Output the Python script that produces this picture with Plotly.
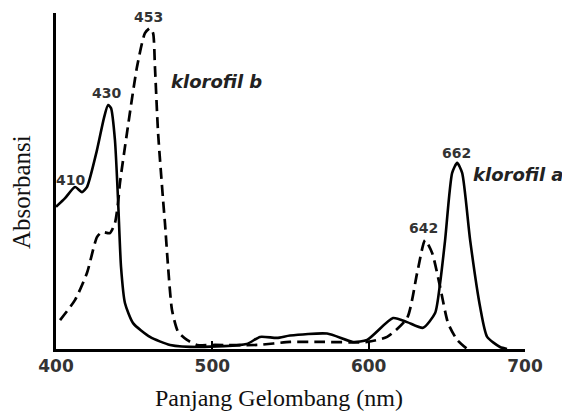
import plotly.graph_objects as go

# Klorofil a (solid line)
wl_a = [400, 405.8, 412.2, 416.6, 419.8, 426.2, 430.7, 433.3, 435.2, 437.7, 439.7, 441.6, 444.1,
        449.3, 460.1, 473, 492, 522, 530.5, 541.4, 549.7, 573.4, 590, 599, 615.6, 624.6, 634.8,
        642.5, 645.7, 648.9, 653.4, 656.6, 659.8, 664.9, 671.3, 675.8, 684, 688.5]
abs_a = [0.423, 0.449, 0.482, 0.467, 0.482, 0.592, 0.688, 0.726, 0.717, 0.622, 0.443, 0.244, 0.137,
         0.077, 0.036, 0.012, 0.006, 0.015, 0.036, 0.033, 0.040, 0.046, 0.021, 0.027, 0.092, 0.080,
         0.063, 0.107, 0.196, 0.324, 0.524, 0.554, 0.524, 0.324, 0.125, 0.036, 0.006, 0.0]

# Klorofil b (dashed line)
wl_b = [402.6, 412.2, 419.8, 426.2, 429.4, 434.5, 437.7, 439.7, 440.9, 445.4, 451.8, 456.9, 460.1,
        462.1, 463.3, 465.3, 468.5, 469.7, 471.7, 474.2, 478.1, 483.8, 490.2, 501.7, 528.6, 549.7,
        570.8, 599, 611.8, 624.6, 631, 636.1, 640.6, 645.7, 650.8, 656.6, 663]
abs_b = [0.086, 0.146, 0.226, 0.333, 0.348, 0.345, 0.375, 0.435, 0.494, 0.643, 0.839, 0.940, 0.955,
         0.940, 0.839, 0.643, 0.443, 0.375, 0.244, 0.116, 0.051, 0.027, 0.012, 0.012, 0.012, 0.021,
         0.021, 0.021, 0.036, 0.092, 0.226, 0.324, 0.286, 0.185, 0.077, 0.027, 0.0]

tick_vals = [400, 500, 600, 700]
tick_text = ["400", "500", "600", "700"]

peak_labels = ["453", "430", "410", "642", "662"]
peak_x = [458.9, 432.6, 409.3, 635.1, 655.9]
peak_y = [0.988, 0.762, 0.503, 0.360, 0.583]

fig = go.Figure()
fig.add_trace(go.Scatter(x=wl_b, y=abs_b, mode="lines",
                         line=dict(color="black", width=2.7, dash="11px,6px", shape="spline", smoothing=0.6),
                         hoverinfo="skip", showlegend=False))
fig.add_trace(go.Scatter(x=wl_a, y=abs_a, mode="lines",
                         line=dict(color="black", width=2.6, shape="spline", smoothing=0.6),
                         hoverinfo="skip", showlegend=False))

ann = []
for t, x, y in zip(peak_labels, peak_x, peak_y):
    ann.append(dict(x=x, y=y, xref="x", yref="y", text=t, showarrow=False,
                    font=dict(family="DejaVu Sans", size=14, color="#333333", weight="bold")))
ann.append(dict(x=472.5, y=0.795, xref="x", yref="y", text="klorofil b", showarrow=False,
                xanchor="left", yanchor="middle",
                font=dict(family="DejaVu Sans", size=18, color="#222222", weight="bold", style="italic")))
ann.append(dict(x=1.0874, y=0.518, xref="paper", yref="paper", text="klorofil a", showarrow=False,
                xanchor="right", yanchor="middle",
                font=dict(family="DejaVu Sans", size=18, color="#222222", weight="bold", style="italic")))
ann.append(dict(x=0.4755, y=-0.1458, xref="paper", yref="paper", text="Panjang Gelombang (nm)",
                showarrow=False, xanchor="center", yanchor="middle",
                font=dict(family="Liberation Serif", size=24, color="#111111")))
ann.append(dict(x=-0.0746, y=0.467, xref="paper", yref="paper", text="Absorbansi", textangle=-90,
                showarrow=False, xanchor="center", yanchor="middle",
                font=dict(family="Liberation Serif", size=25, color="#111111")))

fig.update_layout(
    width=562, height=404,
    margin=dict(l=48, r=45, t=5, b=63),
    paper_bgcolor="white", plot_bgcolor="white",
    annotations=ann,
    xaxis=dict(range=[400, 700], showgrid=False, zeroline=False, showline=True, linecolor="black",
               linewidth=2.5, ticks="inside", ticklen=8, tickwidth=2, tickcolor="black",
               tickvals=tick_vals, ticktext=tick_text,
               tickfont=dict(family="DejaVu Sans", size=17, color="#333333", weight="bold")),
    yaxis=dict(range=[0, 1], showgrid=False, zeroline=False, showline=True, linecolor="black",
               linewidth=2.5, showticklabels=False, ticks=""),
)

fig.write_html("out.html")
